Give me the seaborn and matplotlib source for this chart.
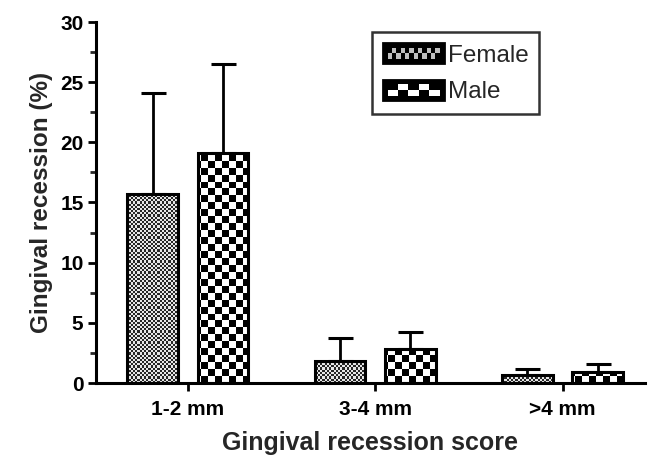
import numpy as np
import pandas as pd
import seaborn as sns
import matplotlib
matplotlib.use("Agg")
import matplotlib.pyplot as plt
from matplotlib.patches import Rectangle
from matplotlib.legend_handler import HandlerBase

# data
scores = ["1-2 mm", "3-4 mm", ">4 mm"]
female_mean = [15.7, 1.8, 0.65]
female_sd = [8.4, 1.95, 0.5]
male_mean = [19.1, 2.8, 0.9]
male_sd = [7.4, 1.45, 0.7]
y_ticks = [0, 5, 10, 15, 20, 25, 30]

df = pd.DataFrame({
    "score": scores * 2,
    "value": female_mean + male_mean,
    "sex": ["Female"] * 3 + ["Male"] * 3,
})

sns.set_style("ticks")
plt.rcParams["font.family"] = ["Liberation Sans", "DejaVu Sans"]

fig = plt.figure(figsize=(6.49, 4.65), dpi=100)
ax = fig.add_axes([96 / 649, 82 / 465, 549 / 649, 361 / 465])

sns.barplot(data=df, x="score", y="value", hue="sex", ax=ax,
            palette=["white", "white"], edgecolor="black", linewidth=2.2,
            width=0.75, gap=0.28, errorbar=None, legend=False)

xlim = (-0.49, 2.44)
ylim = (0, 30)

# error bars (upper only)
for cont, sd in zip(ax.containers, [female_sd, male_sd]):
    xs = [p.get_x() + p.get_width() / 2 for p in cont]
    hs = [p.get_height() for p in cont]
    ax.errorbar(xs, hs, yerr=[np.zeros(len(sd)), sd], fmt="none", ecolor="black",
                elinewidth=2, capsize=9, capthick=2.2, zorder=1)


def checker(cell_px):
    nx = int(549 / cell_px) + 1
    ny = int(361 / cell_px) + 1
    return (np.indices((ny, nx)).sum(axis=0) % 2).astype(float)


# fill patterns: fine grey dots for female, coarse checkerboard for male
pats = [(checker(2.2), 0.15, 0.9), (checker(7), 0.0, 1.0)]
for cont, (pat, lo, hi) in zip(ax.containers, pats):
    for p in cont:
        p.set_facecolor("none")
        p.set_zorder(3)
        im = ax.imshow(lo + (hi - lo) * pat, cmap="gray", vmin=0, vmax=1,
                       interpolation="nearest", extent=xlim + ylim,
                       aspect="auto", zorder=2)
        im.set_clip_path(p)

ax.set_xlim(*xlim)
ax.set_ylim(*ylim)


class CheckerHandler(HandlerBase):
    def __init__(self, n, hi):
        super().__init__()
        self.n, self.hi = n, hi

    def create_artists(self, legend, orig_handle, xdescent, ydescent,
                       width, height, fontsize, trans):
        arts = [Rectangle((-xdescent, -ydescent), width, height, facecolor="black",
                          edgecolor="black", lw=2, transform=trans)]
        pad = height * 0.22
        iw, ih = width - 2 * pad, height - 2 * pad
        nr, nc = 2, self.n
        cw, chh = iw / nc, ih / nr
        for i in range(nr):
            for j in range(nc):
                if (i + j) % 2 == 0:
                    arts.append(Rectangle((-xdescent + pad + j * cw, -ydescent + pad + i * chh),
                                          cw, chh, facecolor=str(self.hi), lw=0,
                                          transform=trans))
        return arts


h1 = Rectangle((0, 0), 1, 1)
h2 = Rectangle((0, 0), 1, 1)
leg = ax.legend([h1, h2], ["Female", "Male"], loc="upper left",
                bbox_to_anchor=(0.49, 0.992), frameon=True, fancybox=False,
                edgecolor="black", fontsize=17.5, handlelength=2.5, handleheight=0.9,
                handletextpad=0.15, borderpad=0.45, labelspacing=0.55,
                borderaxespad=0.3,
                handler_map={h1: CheckerHandler(12, 0.75), h2: CheckerHandler(5, 1.0)})
leg.get_frame().set_linewidth(1.8)

sns.despine(ax=ax)
for s in ["left", "bottom"]:
    ax.spines[s].set_linewidth(2.2)
    ax.spines[s].set_color("black")

ax.set_yticks(y_ticks)
ax.set_yticks(np.arange(2.5, 30, 5), minor=True)
ax.tick_params(axis="both", which="major", direction="out", length=6, width=2,
               labelsize=15, colors="black", pad=3)
ax.tick_params(axis="x", which="major", pad=6)
ax.tick_params(axis="y", which="minor", direction="out", length=4, width=2)
for lab in ax.get_xticklabels() + ax.get_yticklabels():
    lab.set_fontweight("bold")

ax.set_xlabel("Gingival recession score", fontsize=18, fontweight="bold", labelpad=9)
ax.set_ylabel("Gingival recession (%)", fontsize=17.5, fontweight="bold", labelpad=5)

fig.savefig("out.png", dpi=100)
